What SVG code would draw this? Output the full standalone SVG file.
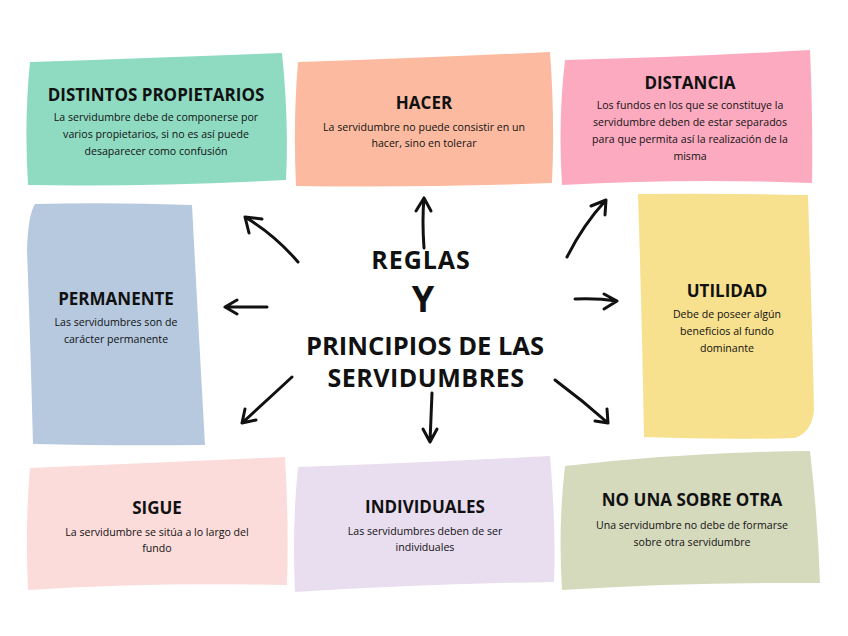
<svg xmlns="http://www.w3.org/2000/svg" width="848" height="636" viewBox="0 0 848 636">
<defs>
<style>
.t{font-family:"Open Sans","Liberation Sans",sans-serif;font-weight:700;font-size:17px;fill:#111;text-anchor:middle}
.b{font-family:"Open Sans","Liberation Sans",sans-serif;font-size:10.6px;fill:#111;text-anchor:middle}
.c{font-family:"Open Sans","Liberation Sans",sans-serif;font-weight:700;fill:#111;text-anchor:middle}
.a{fill:none;stroke:#111;stroke-width:3;stroke-linecap:round;stroke-linejoin:round}
</style>
</defs>
<rect width="848" height="636" fill="#fff"/>
<g id="distintos">
<path d="M30,62 Q150,58 282,53 Q289,120 286,180 Q150,187 28,185 Q24,120 30,62 Z" fill="#8fdbc2"/>
<text class="t" x="156" y="101">DISTINTOS PROPIETARIOS</text>
<text class="b" x="156" y="121">La servidumbre debe de componerse por</text>
<text class="b" x="156" y="138">varios propietarios, si no es así puede</text>
<text class="b" x="156" y="155">desaparecer como confusión</text>
</g>
<g id="hacer">
<path d="M298,62 Q420,58 550,52 Q555,120 552,183 Q420,188 296,186 Q293,120 298,62 Z" fill="#fcbba0"/>
<text class="t" x="424" y="109">HACER</text>
<text class="b" x="424" y="131">La servidumbre no puede consistir en un</text>
<text class="b" x="424" y="147">hacer, sino en tolerar</text>
</g>
<g id="distancia">
<path d="M565,60 Q690,57 810,50 Q813,120 812,183 Q690,178 562,185 Q558,120 565,60 Z" fill="#fcaac0"/>
<text class="t" x="690" y="89">DISTANCIA</text>
<text class="b" x="690" y="109">Los fundos en los que se constituye la</text>
<text class="b" x="690" y="126">servidumbre deben de estar separados</text>
<text class="b" x="690" y="143">para que permita así la realización de la</text>
<text class="b" x="690" y="160">misma</text>
</g>
<g id="permanente">
<path d="M35,204 Q110,202 192,205 Q198,320 205,445 Q115,446 33,444 Q30,330 27,250 Q28,215 35,204 Z" fill="#b6c9df"/>
<text class="t" x="116" y="305">PERMANENTE</text>
<text class="b" x="116" y="326">Las servidumbres son de</text>
<text class="b" x="116" y="343">carácter permanente</text>
</g>
<g id="utilidad">
<path d="M638,194 Q725,193 808,195 Q812,320 814,410 Q812,432 795,438 Q720,440 644,437 Q642,320 638,194 Z" fill="#f7e08e"/>
<text class="t" x="727" y="297">UTILIDAD</text>
<text class="b" x="727" y="318">Debe de poseer algún</text>
<text class="b" x="727" y="335">beneficios al fundo</text>
<text class="b" x="727" y="352">dominante</text>
</g>
<g id="sigue">
<path d="M30,468 Q150,463 285,457 Q289,525 287,585 Q150,582 28,590 Q25,525 30,468 Z" fill="#fbdcda"/>
<text class="t" x="157" y="514">SIGUE</text>
<text class="b" x="157" y="536">La servidumbre se sitúa a lo largo del</text>
<text class="b" x="157" y="552">fundo</text>
</g>
<g id="individuales">
<path d="M298,467 Q420,463 550,456 Q556,525 554,582 Q420,584 295,592 Q292,525 298,467 Z" fill="#e9ddf0"/>
<text class="t" x="425" y="513">INDIVIDUALES</text>
<text class="b" x="425" y="535">Las servidumbres deben de ser</text>
<text class="b" x="425" y="551">individuales</text>
</g>
<g id="nounasobreotra">
<path d="M565,466 Q690,452 810,451 Q818,520 820,583 Q690,582 562,590 Q558,525 565,466 Z" fill="#d6dabd"/>
<text class="t" x="692" y="506">NO UNA SOBRE OTRA</text>
<text class="b" x="692" y="529">Una servidumbre no debe de formarse</text>
<text class="b" x="692" y="546">sobre otra servidumbre</text>
</g>
<g id="center">
<text class="c" x="421" y="269" font-size="25" letter-spacing="1">REGLAS</text>
<text class="c" x="423" y="312" font-size="36">Y</text>
<text class="c" x="425" y="355" font-size="25.5">PRINCIPIOS DE LAS</text>
<text class="c" x="426" y="387" font-size="25" letter-spacing="0.5">SERVIDUMBRES</text>
</g>
<g id="connectors">
<path class="a" d="M298,262 Q275,235 245,217 M245,217 L262,219 M245,217 L249,233"/>
<path class="a" d="M424,248 Q422,220 424,198 M424,198 L416,211 M424,198 L431,211"/>
<path class="a" d="M567,257 Q583,225 606,200 M606,200 L591,206 M606,200 L605,215"/>
<path class="a" d="M267,307 L225,307 M225,307 L237,300 M225,307 L237,314"/>
<path class="a" d="M575,299 Q597,298 617,301 M617,301 L604,294 M617,301 L604,309"/>
<path class="a" d="M292,377 Q265,402 242,423 M242,423 L245,409 M242,423 L256,420"/>
<path class="a" d="M432,393 Q431,418 430,442 M430,442 L423,429 M430,442 L437,429"/>
<path class="a" d="M555,380 Q582,400 608,423 M608,423 L595,421 M608,423 L607,409"/>
</g>
</svg>
